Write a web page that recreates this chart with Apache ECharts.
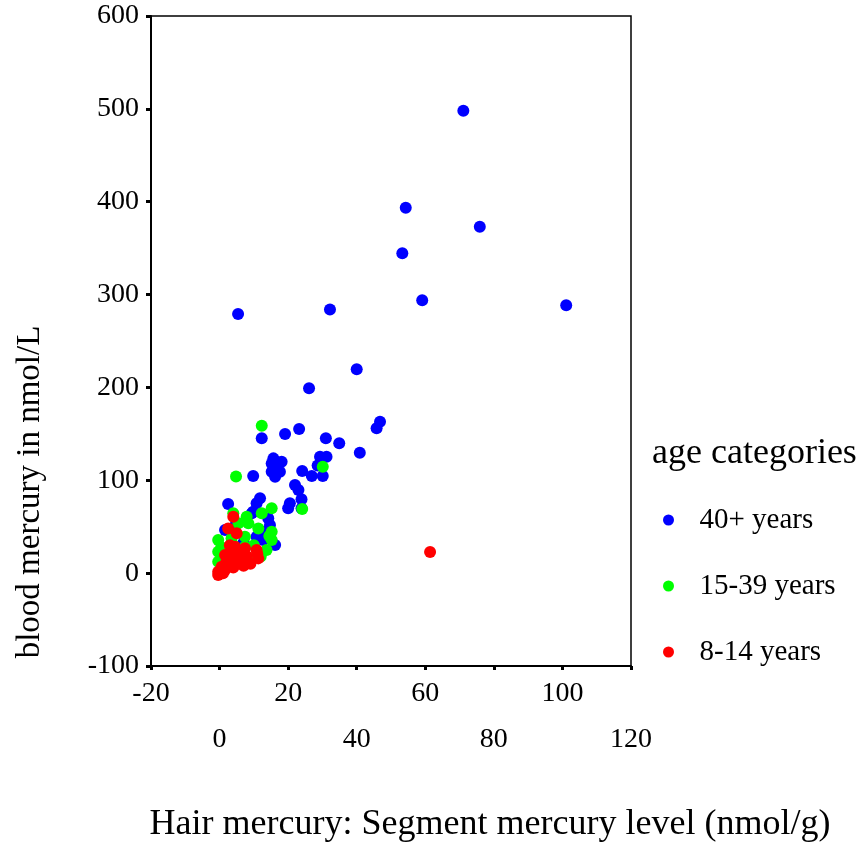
<!DOCTYPE html>
<html>
<head>
<meta charset="utf-8">
<script src="https://cdn.jsdelivr.net/npm/echarts@6/dist/echarts.min.js"></script>
<style>
html,body{margin:0;padding:0;background:#fff;}
#chart{width:866px;height:846px;}
</style>
</head>
<body>
<div id="chart"></div>
<script>
const seriesNames = ['40+ years', '15-39 years', '8-14 years'];
const seriesColors = ['#0000FF', '#00FF00', '#FF0000'];
const xTitle = 'Hair mercury: Segment mercury level (nmol/g)';
const yTitle = 'blood mercury in nmol/L';
const legendTitle = 'age categories';

const age40plus = [
  [71.1,498],[54.3,393.5],[75.9,373],[53.3,344.4],[59.1,293.8],[101.1,288.4],[32.2,284],[5.4,279],[40.0,219.5],[26.1,199],
  [46.8,163],[45.8,156],[12.3,145.2],[19.1,149.8],[23.2,155.2],[31.0,145.2],[34.9,139.8],[40.9,129.7],
  [15.7,123.6],[18.1,120],[15.2,118.2],[16.7,112.9],[15.2,109.2],[17.6,109.2],[16.2,103.8],[16.9,116],
  [29.3,125.4],[31.2,125.4],[28.6,116],[24.1,110],[26.9,104.6],[30.1,104.6],[9.8,104.6],
  [22.0,94.9],[23.0,89.5],[23.9,79.5],[20.5,75.2],[20.0,69.8],[23.9,69.8],
  [11.8,80.6],[10.8,75.2],[9.8,66.1],[14.2,59],[2.5,74.4],[9.4,64.4],[14.7,51.8],[1.6,46.4],
  [10.8,39.2],[12.7,35.6],[16.2,30.3],[4.5,50.7],[13.5,45],[7,33]
];
const age15to39 = [
  [12.3,158.7],[4.8,104.2],[30.1,114.6],[24.1,69],[15.2,69.8],[4.0,64.4],[7.9,60.7],[12.3,64.4],
  [5.5,53.6],[8.4,53.6],[11.3,48.2],[15.2,44.6],[-0.4,35.6],[3.5,37.5],[7.4,39.2],[15.2,35.6],
  [-0.4,23.0],[7.4,28.4],[13.7,24.8],[-0.4,12.3],[2,20],[4,30],[10,30],[12,18],[6,15],[1,5],
  [3,8],[9,12],[14.5,40],[0.5,28]
];
const age8to14 = [
  [61.4,22.7],[4.0,60.7],[2.5,48.2],[5.0,42.9],[4.5,28.4],[7.4,26.7],[10.8,24.9],[11.3,15.9],
  [1.6,19.5],[3.5,14.1],[6.4,15.9],[0.6,6.9],[2.5,8.7],[5.5,10.6],[-0.4,1.5],[1.6,3.3],[-0.4,-2.0],
  [3,22],[6,20],[8,18],[9,10],[2,12],[4,6],[1,0],[7,8],[3,30],[5,18],[11,21]
];

const FONT = '"Liberation Serif", "Times New Roman", serif';
const chart = echarts.init(document.getElementById('chart'));
const datasets = [age40plus, age15to39, age8to14];

chart.setOption({
  animation: false,
  backgroundColor: '#fff',
  grid: {left: 151, right: 235, top: 16, bottom: 180, show: true, borderColor: '#000', borderWidth: 1.5, backgroundColor: 'transparent'},
  xAxis: {
    type: 'value', min: -20, max: 120, interval: 20,
    axisLine: {show: true, onZero: false, lineStyle: {color: '#000', width: 2}},
    axisTick: {show: true, length: 4, lineStyle: {color: '#000', width: 3}},
    splitLine: {show: false},
    axisLabel: {
      color: '#000', fontFamily: FONT, fontSize: 28, lineHeight: 46, margin: 5,
      formatter: function (v, i) { return (i % 2 === 0) ? (v + '\n ') : (' \n' + v); }
    }
  },
  yAxis: {
    type: 'value', min: -100, max: 600, interval: 100,
    axisLine: {show: true, onZero: false, lineStyle: {color: '#000', width: 2}},
    axisTick: {show: true, length: 5, lineStyle: {color: '#000', width: 3}},
    splitLine: {show: false},
    axisLabel: {color: '#000', fontFamily: FONT, fontSize: 28, margin: 12}
  },
  title: {
    text: legendTitle, left: 647, top: 430,
    textStyle: {fontFamily: FONT, fontSize: 36, fontWeight: 'normal', color: '#000', lineHeight: 38}
  },
  legend: {
    orient: 'vertical', left: 663, top: 505, padding: 0,
    data: seriesNames,
    icon: 'circle', itemWidth: 20, itemHeight: 11, itemGap: 36,
    textStyle: {fontFamily: FONT, fontSize: 29, color: '#000', lineHeight: 30, padding: [0, 0, 0, 16]}
  },
  graphic: [
    {type: 'text', x: 30, y: 492, rotation: Math.PI / 2,
     style: {text: yTitle, font: '33px ' + FONT, fill: '#000', textAlign: 'center', textVerticalAlign: 'middle'}},
    {type: 'text', x: 490, y: 825,
     style: {text: xTitle, font: '36px ' + FONT, fill: '#000', textAlign: 'center', textVerticalAlign: 'middle'}}
  ],
  series: seriesNames.map(function (name, k) {
    return {
      name: name, type: 'scatter', data: datasets[k],
      symbol: 'circle', symbolSize: 12,
      itemStyle: {color: seriesColors[k], opacity: 1},
      emphasis: {disabled: true}
    };
  })
});
</script>
</body>
</html>
